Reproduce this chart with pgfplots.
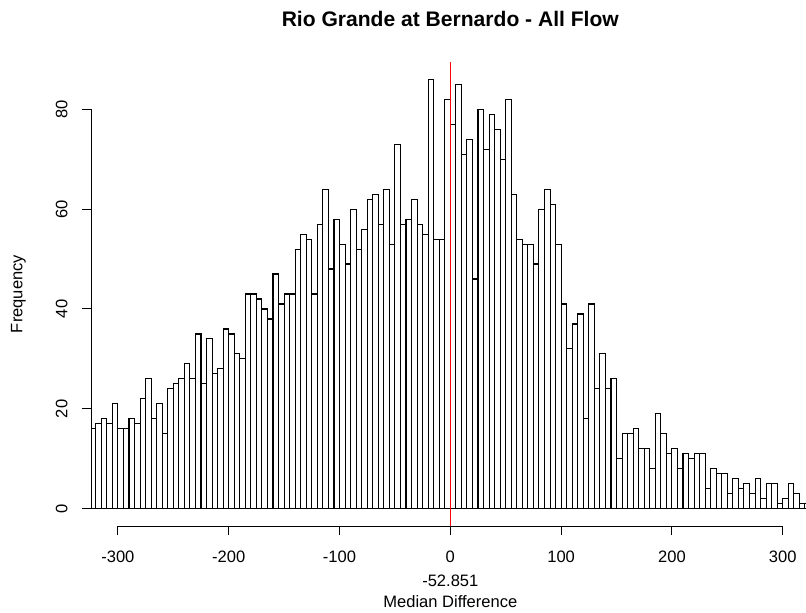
\documentclass[border=0pt]{standalone}
\usepackage{fontspec}
\setmainfont{Liberation Sans}
\usepackage{pgfplots}
\pgfplotsset{compat=1.18}

\begin{document}
\begin{tikzpicture}
\useasboundingbox (-68.475pt,-64.5pt) rectangle (536.025pt,394.5pt);
\begin{axis}[
  scale only axis,
  width=536.025pt, height=348pt,
  xmin=-324, xmax=321, ymin=-3.44, ymax=89.44,
  axis lines*=left,
  axis line style={draw=none,-},
  tick align=outside,
  xtick={-300,-200,...,300},
  ytick={0,20,...,80},
  minor tick num=0,
  major tick length=6.75pt,
  tick style={black, line width=0.75pt},
  ticklabel style={font=\fontsize{12.4}{14}\selectfont},
  /pgf/number format/assume math mode=true,
  xticklabel style={anchor=center, yshift=-16.5pt},
  yticklabel style={anchor=center, xshift=-15.5pt, rotate=90},
  clip mode=individual,
]
% bins of width 5: left edge, count (last row only closes the interval)
\addplot[ybar interval, fill=white, draw=black, line width=0.8pt] table {
x y
-325 16
-320 17
-315 18
-310 17
-305 21
-300 16
-295 16
-290 18
-285 17
-280 22
-275 26
-270 18
-265 21
-260 15
-255 24
-250 25
-245 26
-240 29
-235 26
-230 35
-225 25
-220 34
-215 27
-210 28
-205 36
-200 35
-195 31
-190 30
-185 43
-180 43
-175 42
-170 40
-165 38
-160 47
-155 41
-150 43
-145 43
-140 52
-135 55
-130 54
-125 43
-120 57
-115 64
-110 48
-105 58
-100 53
-95 49
-90 60
-85 52
-80 56
-75 62
-70 63
-65 57
-60 64
-55 53
-50 73
-45 57
-40 58
-35 62
-30 57
-25 55
-20 86
-15 54
-10 54
-5 82
0 77
5 85
10 71
15 74
20 46
25 80
30 72
35 79
40 76
45 70
50 82
55 63
60 54
65 53
70 53
75 49
80 60
85 64
90 61
95 53
100 41
105 32
110 37
115 39
120 18
125 41
130 24
135 31
140 24
145 26
150 10
155 15
160 15
165 16
170 12
175 12
180 8
185 19
190 15
195 11
200 12
205 8
210 11
215 10
220 11
225 11
230 4
235 8
240 7
245 7
250 3
255 6
260 4
265 5
270 3
275 6
280 2
285 5
290 5
295 1
300 2
305 5
310 3
315 1
320 1
325 1
};
\draw[red, line width=0.75pt] (axis cs:0,-3.44) -- (axis cs:0,89.44);
\draw[line width=0.75pt] (axis cs:-300,-3.44) -- (axis cs:300,-3.44);
\draw[line width=0.75pt] (axis cs:-324,0) -- (axis cs:-324,80);
\node[font=\fontsize{12.4}{14}\selectfont] at (axis cs:0,-3.44) [yshift=-41pt] {-52.851};
\node[font=\fontsize{12.4}{14}\selectfont] at (axis cs:0,-3.44) [yshift=-57pt] {Median Difference};
\node[xshift=-54.75pt, rotate=90, font=\fontsize{12.4}{14}\selectfont] at (rel axis cs:0,0.5) {Frequency};
\node[font=\bfseries\fontsize{15.8}{18}\selectfont] at (axis cs:0,89.44) [yshift=32.25pt] {Rio Grande at Bernardo - All Flow};
\end{axis}
\end{tikzpicture}
\end{document}
